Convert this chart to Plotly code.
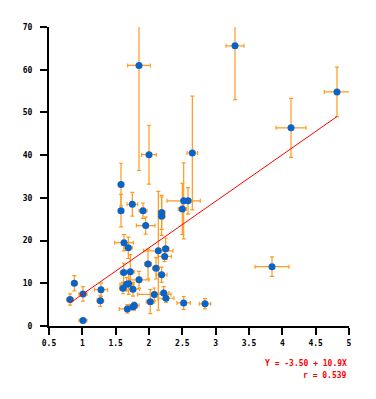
import plotly.graph_objects as go

# data
x_vals = [0.815, 0.88, 1.01, 1.01, 1.28, 1.27, 1.58, 1.58, 1.625, 1.62, 1.61, 1.69, 1.75,
          1.665, 1.695, 1.72, 1.675, 1.76, 1.78, 1.76, 1.85, 1.85, 2.0, 1.91, 1.95, 1.985,
          2.02, 2.08, 2.105, 2.14, 2.19, 2.19, 2.19, 2.22, 2.235, 2.25, 2.255, 2.5, 2.52,
          2.585, 2.52, 2.65, 3.29, 4.13, 4.82, 3.845, 2.84]
y_vals = [6.2, 10.0, 7.5, 1.3, 8.5, 5.9, 27.0, 33.1, 19.5, 12.5, 8.85, 18.3, 28.5,
          9.8, 9.9, 12.7, 4.0, 8.6, 4.8, 4.5, 10.8, 61.0, 40.1, 27.0, 23.5, 14.5,
          5.7, 7.4, 13.5, 17.6, 26.6, 25.7, 12.0, 7.7, 16.3, 18.1, 6.5, 27.4, 29.3,
          29.3, 5.4, 40.5, 65.6, 46.4, 54.8, 13.9, 5.2]
x_err = [0.05, 0.04, 0.06, 0.06, 0.1, 0.05, 0.04, 0.04, 0.14, 0.05, 0.05, 0.06, 0.08,
         0.1, 0.08, 0.06, 0.12, 0.1, 0.07, 0.06, 0.15, 0.17, 0.11, 0.06, 0.14, 0.05,
         0.06, 0.25, 0.05, 0.22, 0.05, 0.05, 0.08, 0.08, 0.1, 0.05, 0.12, 0.06, 0.25,
         0.06, 0.1, 0.08, 0.135, 0.225, 0.19, 0.255, 0.085]
y_err = [1.3, 1.8, 1.7, 0.4, 1.6, 1.3, 3.8, 5.0, 1.9, 2.2, 1.3, 2.5, 2.8,
         1.6, 2.5, 4.0, 1.0, 1.6, 0.8, 0.8, 2.0, 24.6, 6.9, 1.8, 2.0, 3.5,
         2.8, 1.5, 2.5, 13.9, 4.0, 4.5, 1.8, 1.5, 1.2, 2.5, 1.0, 6.0, 8.9,
         3.1, 1.5, 13.3, 12.6, 6.9, 5.8, 2.3, 1.2]

intercept = -3.50
slope = 10.9
r_value = 0.539

x_ticks = [0.5, 1, 1.5, 2, 2.5, 3, 3.5, 4, 4.5, 5]
x_tick_text = ["0.5", "1", "1.5", "2", "2.5", "3", "3.5", "4", "4.5", "5"]
y_ticks = [0, 10, 20, 30, 40, 50, 60, 70]

orange = "#ff9a1e"
blue = "#0a64c8"
font_fam = "DejaVu Sans Mono"

fig = go.Figure()
fig.add_trace(go.Scatter(
    x=x_vals, y=y_vals, mode="markers",
    marker=dict(color=blue, size=7, line=dict(width=0)),
    error_x=dict(type="data", array=x_err, visible=True, color=orange, thickness=1.2, width=2),
    error_y=dict(type="data", array=y_err, visible=True, color=orange, thickness=1.2, width=2),
    showlegend=False,
))
xmin, xmax = min(x_vals), max(x_vals)
fig.add_trace(go.Scatter(
    x=[xmin, xmax], y=[intercept + slope * xmin, intercept + slope * xmax],
    mode="lines", line=dict(color="#ff0000", width=1), showlegend=False,
))

axis_common = dict(
    showgrid=False, zeroline=False, showline=True, linecolor="black", linewidth=2,
    ticks="outside", ticklen=7, tickwidth=2, tickcolor="black",
    tickfont=dict(family=font_fam, size=8, color="black", weight="bold"),
)
fig.update_xaxes(range=[0.5, 5], tickvals=x_ticks, ticktext=x_tick_text,
                 ticklabelstandoff=1, **axis_common)
fig.update_yaxes(range=[0, 70], tickvals=y_ticks, ticklabelstandoff=6, **axis_common)

fig.add_annotation(xref="paper", yref="paper", x=1.0, y=-0.127, xanchor="right", yanchor="middle",
                   text=f"Y = {intercept:.2f} + {slope:.1f}X", showarrow=False,
                   font=dict(family=font_fam, size=8, color="#ff0000", weight="bold"))
fig.add_annotation(xref="paper", yref="paper", x=1.0, y=-0.166, xanchor="right", yanchor="middle",
                   text=f"r = {r_value:.3f}", showarrow=False,
                   font=dict(family=font_fam, size=8, color="#ff0000", weight="bold"))

fig.update_layout(
    width=368, height=391,
    margin=dict(l=41, r=27, t=19, b=73),
    paper_bgcolor="white", plot_bgcolor="white",
)
fig.write_html("out.html", config={"displayModeBar": False})
